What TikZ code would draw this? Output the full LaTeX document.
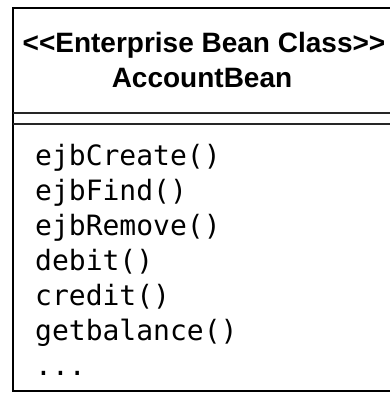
\documentclass[tikz,border=0pt]{standalone}
\usepackage{fontspec}
\newfontfamily\headfont{Liberation Sans}
\newfontfamily\opfont{DejaVu Sans Mono}
\usetikzlibrary{positioning}

\begin{document}
\begin{tikzpicture}[
  x=1pt, y=1pt,
  frame/.style={draw=black, line width=2.4pt},
  sep/.style={draw=black!85, line width=1.3pt},
  title/.style={font=\headfont\fontsize{28}{35}\selectfont\bfseries, anchor=base, inner sep=0pt},
  op/.style={font=\opfont\fontsize{28}{35}\selectfont, anchor=base west, inner sep=0pt},
]
\useasboundingbox (0,0) rectangle (390,-393);

% --- class frame (runs off the right edge) ---
\draw[frame] (396,-8) -- (13,-8) -- (13,-391) -- (396,-391);
\draw[sep] (13,-113) -- (396,-113);
\draw[sep] (13,-124) -- (396,-124);

% --- name compartment ---
\node[title] (stereo) at (204,-53) {<<Enterprise Bean Class>>};
\node[title] (cname)  at (202,-88) {AccountBean};

% --- operations ---
\node[op] (op1) at (35,-165) {ejbCreate()};
\node[op] (op2) at (35,-200) {ejbFind()};
\node[op] (op3) at (35,-235) {ejbRemove()};
\node[op] (op4) at (35,-270) {debit()};
\node[op] (op5) at (35,-305) {credit()};
\node[op] (op6) at (35,-340) {getbalance()};
\node[op] (op7) at (35,-375) {...};

\end{tikzpicture}
\end{document}
